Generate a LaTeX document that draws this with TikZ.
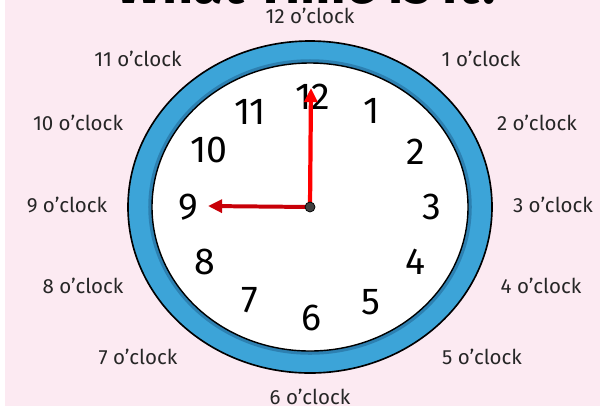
\documentclass[tikz,border=0pt]{standalone}
\usepackage{fontspec}
\setmainfont{Fira Sans}
\usepackage{tikz}
\usetikzlibrary{arrows.meta}
\usepackage{xcolor}
\definecolor{bgpink}{HTML}{FCEAF2}
\definecolor{rimblue}{HTML}{3CA4D8}
\definecolor{rimshade}{HTML}{2A78A8}
\definecolor{minc}{HTML}{FF0000}
\definecolor{hourc}{HTML}{C80008}
\definecolor{labelc}{HTML}{262626}

\begin{document}
\begin{tikzpicture}[x=0.03cm, y=-0.03cm,
    numeral/.style={font=\fontsize{32}{33}\selectfont, text=black, inner sep=0pt},
    oclock/.style={font=\fontsize{17.5}{19}\selectfont, text=labelc, inner sep=0pt},
    hand/.style={line cap=butt, -{Triangle[length=12pt, width=11pt]}}]
  \useasboundingbox (0,0) rectangle (600,406);
  \clip (0,0) rectangle (600,406);
  \fill[bgpink] (5,0) rectangle (600,406);
  % title, mostly off the top edge
  \node[font=\fontsize{46}{48}\selectfont\bfseries, anchor=base, inner sep=0pt] (title) at (310,3) {What Time is it?};
  % clock face
  \fill[rimblue, draw=black, line width=1.4pt] (310,207) ellipse [x radius=182, y radius=166];
  \draw[rimshade, line width=3pt, opacity=0.8] (310,207) ellipse [x radius=160, y radius=146];
  \fill[white, draw=black, line width=1.2pt] (310,207) ellipse [x radius=158, y radius=144];
  % numerals
  \node[numeral] (n12) at (313,97) {12};
  \node[numeral] (n1) at (372,111) {1};
  \node[numeral] (n2) at (416,152) {2};
  \node[numeral] (n3) at (432,207) {3};
  \node[numeral] (n4) at (415,262) {4};
  \node[numeral] (n5) at (371,302) {5};
  \node[numeral] (n6) at (311,318) {6};
  \node[numeral] (n7) at (250,300) {7};
  \node[numeral] (n8) at (205,262) {8};
  \node[numeral] (n9) at (188,207) {9};
  \node[numeral] (n10) at (209,150) {10};
  \node[numeral] (n11) at (250,112) {11};
  % labels round the clock
  \node[oclock] (l12) at (310,16) {12 o’clock};
  \node[oclock] (l1) at (481,59) {1 o’clock};
  \node[oclock] (l2) at (537,123) {2 o’clock};
  \node[oclock] (l3) at (553,205) {3 o’clock};
  \node[oclock] (l4) at (541,286) {4 o’clock};
  \node[oclock] (l5) at (482,357) {5 o’clock};
  \node[oclock] (l6) at (310,397) {6 o’clock};
  \node[oclock] (l7) at (138,357) {7 o’clock};
  \node[oclock] (l8) at (83,286) {8 o’clock};
  \node[oclock] (l9) at (67,205) {9 o’clock};
  \node[oclock] (l10) at (78,123) {10 o’clock};
  \node[oclock] (l11) at (138,59) {11 o’clock};
  % hands
  \coordinate (hub) at (310,207);
  \coordinate (hourtip) at (208,206);
  \coordinate (mintip) at (311,88);
  \draw[hand, hourc, line width=3.4pt] (hub) -- (hourtip);
  \draw[hand, minc, line width=3.6pt] (hub) -- (mintip);
  \fill[black!75, draw=black, line width=0.6pt] (hub) circle (5);
\end{tikzpicture}
\end{document}
